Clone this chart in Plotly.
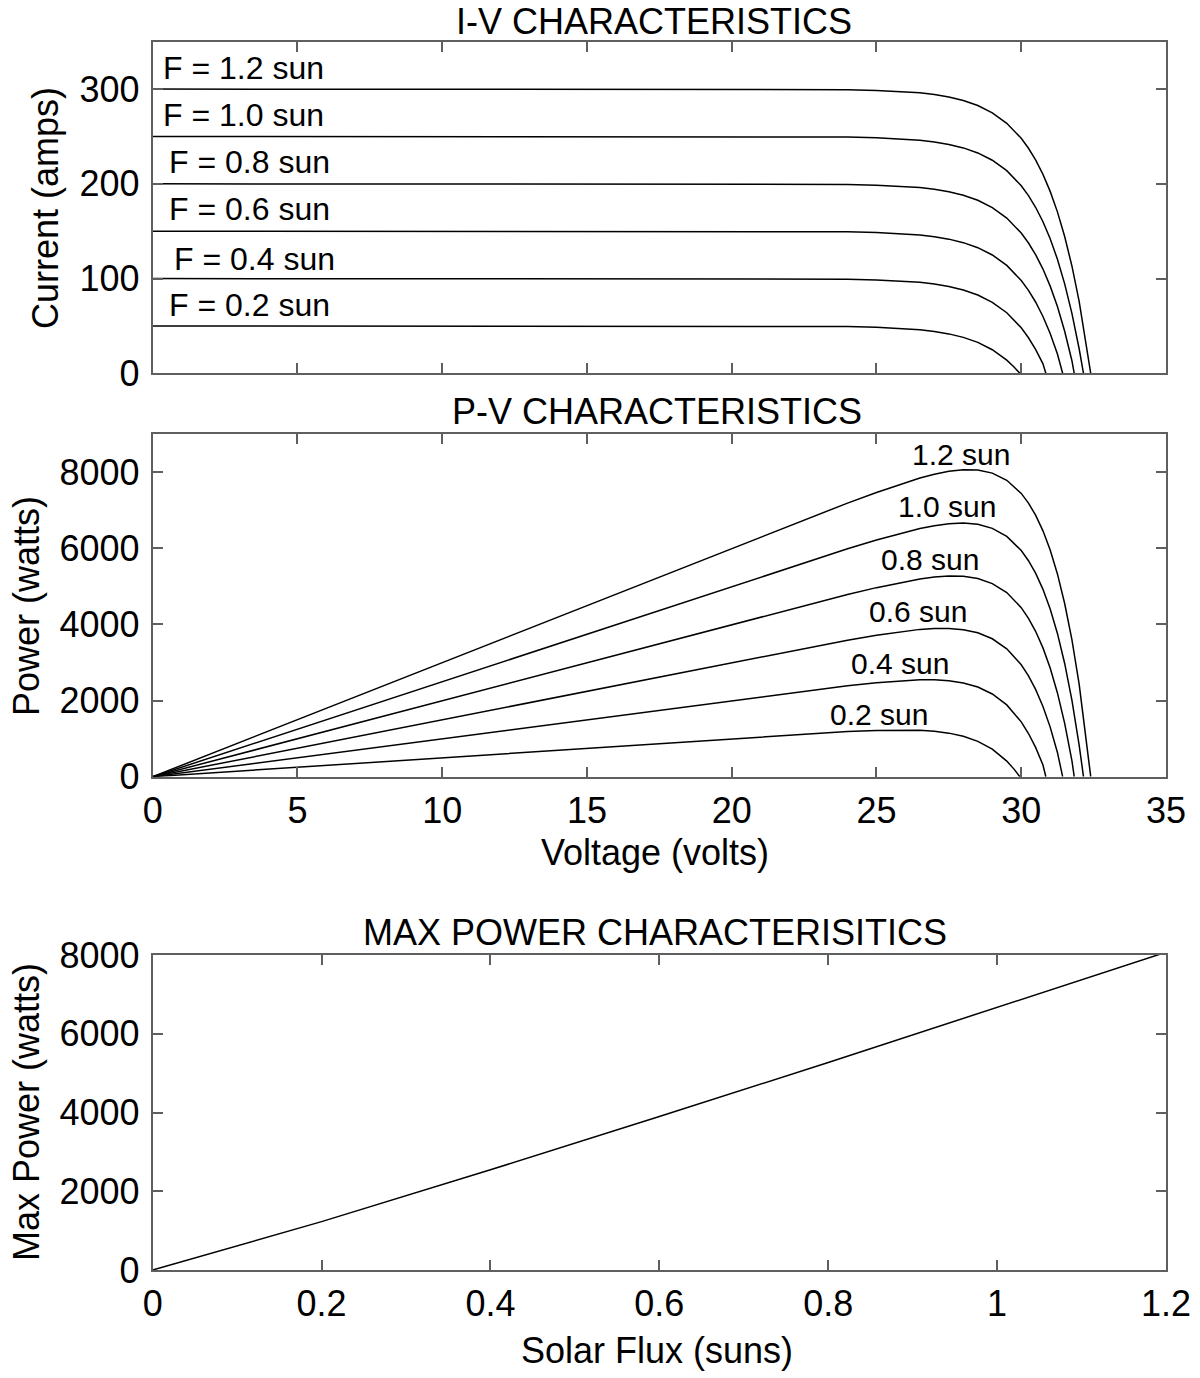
import plotly.graph_objects as go

# ---------------- data ----------------
flux_labels = ["0.2", "0.4", "0.6", "0.8", "1.0", "1.2"]

v_02 = [0, 5, 10, 15, 20, 24, 25, 26, 26.5, 27, 27.5, 28, 28.5, 29, 29.5, 29.75, 29.95]
i_02 = [50, 50, 50, 50, 50, 49.4, 48.6, 47.2, 46.0, 44.2, 41.6, 37.9, 32.6, 24.9, 13.9, 6.7, 0]

v_04 = [0, 5, 10, 15, 20, 24, 25, 26, 26.5, 27, 27.5, 28, 28.5, 29, 29.5, 30, 30.25, 30.5, 30.75, 30.85]
i_04 = [100, 100, 100, 100, 100, 99.4, 98.6, 97.2, 96.0, 94.2, 91.6, 87.9, 82.6, 74.9, 63.9, 48.0, 37.5, 25.0, 10.0, 0]

v_06 = [0, 5, 10, 15, 20, 24, 25, 26, 26.5, 27, 27.5, 28, 28.5, 29, 29.5, 30, 30.25, 30.5, 30.75, 31, 31.25, 31.43]
i_06 = [150, 150, 150, 150, 150, 149.4, 148.6, 147.2, 146.0, 144.2, 141.6, 137.9, 132.6, 124.9, 113.9, 98.0, 87.5, 75.0, 60.0, 42.0, 20.4, 0]

v_08 = [0, 5, 10, 15, 20, 24, 25, 26, 26.5, 27, 27.5, 28, 28.5, 29, 29.5, 30, 30.25, 30.5, 30.75, 31, 31.25, 31.5, 31.75, 31.83]
i_08 = [200, 200, 200, 200, 200, 199.4, 198.6, 197.2, 196.0, 194.2, 191.6, 187.9, 182.6, 174.9, 163.9, 148.0, 137.5, 125.0, 110.0, 92.0, 70.4, 44.4, 13.3, 0]

v_10 = [0, 5, 10, 15, 20, 24, 25, 26, 26.5, 27, 27.5, 28, 28.5, 29, 29.5, 30, 30.25, 30.5, 30.75, 31, 31.25, 31.5, 31.75, 32, 32.15]
i_10 = [250, 250, 250, 250, 250, 249.4, 248.6, 247.2, 246.0, 244.2, 241.6, 237.9, 232.6, 224.9, 213.9, 198.0, 187.5, 175.0, 160.0, 142.0, 120.4, 94.4, 63.3, 25.9, 0]

v_12 = [0, 5, 10, 15, 20, 24, 25, 26, 26.5, 27, 27.5, 28, 28.5, 29, 29.5, 30, 30.25, 30.5, 30.75, 31, 31.25, 31.5, 31.75, 32, 32.25, 32.4]
i_12 = [300, 300, 300, 300, 300, 299.4, 298.6, 297.2, 296.0, 294.2, 291.6, 287.9, 282.6, 274.9, 263.9, 248.0, 237.5, 225.0, 210.0, 192.0, 170.4, 144.4, 113.3, 75.9, 31.1, 0]

flux_suns = [0, 0.2, 0.4, 0.6, 0.8, 1.0, 1.2]
max_power = [0, 1228, 2545, 3897, 5271, 6662, 8070]

# label positions (data coordinates) for the curve labels
iv_label_x = [0.5, 0.65, 0.5, 0.5, 0.3, 0.3]
iv_label_y = [72, 121, 173, 223, 273, 322]
pv_label_x = [25.07, 25.8, 26.45, 26.86, 27.43, 27.92]
pv_label_y = [1624, 2984, 4342, 5703, 7105, 8466]

curves_v = [v_02, v_04, v_06, v_08, v_10, v_12]
curves_i = [i_02, i_04, i_06, i_08, i_10, i_12]

# ---------------- figure ----------------
W, H = 1200, 1378
FONT = "Liberation Sans, Arial, Helvetica, sans-serif"
AXC = "#5f5f5f"

def px_x(px):
    return px / W

def px_y(py):
    return 1 - py / H

fig = go.Figure()

for vv, ii in zip(curves_v, curves_i):
    fig.add_trace(go.Scatter(x=vv, y=ii, mode="lines", line=dict(color="black", width=1.5),
                             xaxis="x", yaxis="y", showlegend=False, hoverinfo="skip"))
for vv, ii in zip(curves_v, curves_i):
    pp = [a * b for a, b in zip(vv, ii)]  # power = voltage x current
    fig.add_trace(go.Scatter(x=vv, y=pp, mode="lines", line=dict(color="black", width=1.5),
                             xaxis="x2", yaxis="y2", showlegend=False, hoverinfo="skip"))
fig.add_trace(go.Scatter(x=flux_suns, y=max_power, mode="lines", line=dict(color="black", width=1.5),
                         xaxis="x3", yaxis="y3", showlegend=False, hoverinfo="skip"))

xd = [px_x(152.7), px_x(1166)]
def yd(top, bot):
    return [px_y(bot), px_y(top)]

common = dict(showgrid=False, zeroline=False, showline=True, linecolor=AXC, linewidth=2,
              mirror="ticks", ticks="inside", ticklen=10, tickwidth=1.5, tickcolor=AXC,
              automargin=False, tickfont=dict(family=FONT, size=36, color="black"))
xc = dict(common, ticklabelstandoff=1)
yc = dict(common, ticklabelstandoff=4)

fig.update_layout(
    width=W, height=H, margin=dict(l=0, r=0, t=0, b=0, pad=0, autoexpand=False),
    paper_bgcolor="white", plot_bgcolor="white",
    font=dict(family=FONT, color="black"),
    xaxis=dict(domain=xd, range=[0, 35], dtick=5, tick0=0, showticklabels=False, anchor="y", **xc),
    yaxis=dict(domain=yd(41.7, 373.3), range=[0, 350], dtick=100, tick0=0, anchor="x", **yc),
    xaxis2=dict(domain=xd, range=[0, 35], dtick=5, tick0=0, anchor="y2", **xc),
    yaxis2=dict(domain=yd(434, 776.7), range=[0, 9000], dtick=2000, tick0=0, tickformat="d", anchor="x2", **yc),
    xaxis3=dict(domain=xd, range=[0, 1.2], dtick=0.2, tick0=0, anchor="y3", **xc),
    yaxis3=dict(domain=yd(955, 1270), range=[0, 8000], dtick=2000, tick0=0, tickformat="d", anchor="x3", **yc),
)

ann = []
for lab, x, y in zip(flux_labels, iv_label_x, iv_label_y):
    ann.append(dict(text=f"F = {lab} sun", x=x, y=y, xref="x", yref="y", xanchor="left", yanchor="middle",
                    showarrow=False, font=dict(family=FONT, size=32, color="black")))
for lab, x, y in zip(flux_labels, pv_label_x, pv_label_y):
    ann.append(dict(text=f"{lab} sun", x=x, y=y, xref="x2", yref="y2", xanchor="center", yanchor="middle",
                    showarrow=False, font=dict(family=FONT, size=30, color="black")))

def ptxt(text, px, py, angle=0):
    return dict(text=text, x=px_x(px), y=px_y(py), xref="paper", yref="paper", xanchor="center",
                yanchor="middle", showarrow=False, textangle=angle,
                font=dict(family=FONT, size=36, color="black"))

ann += [
    ptxt("I-V CHARACTERISTICS", 654, 22),
    ptxt("P-V CHARACTERISTICS", 657, 411),
    ptxt("MAX POWER CHARACTERISITICS", 655, 932),
    ptxt("Voltage (volts)", 655, 853),
    ptxt("Solar Flux (suns)", 657, 1350),
    ptxt("Current (amps)", 46, 208, -90),
    ptxt("Power (watts)", 26, 606, -90),
    ptxt("Max Power (watts)", 26, 1112, -90),
]
fig.update_layout(annotations=ann)

fig.write_html("out.html", config={"displayModeBar": False},
               post_script="document.body.style.margin='0px';")
